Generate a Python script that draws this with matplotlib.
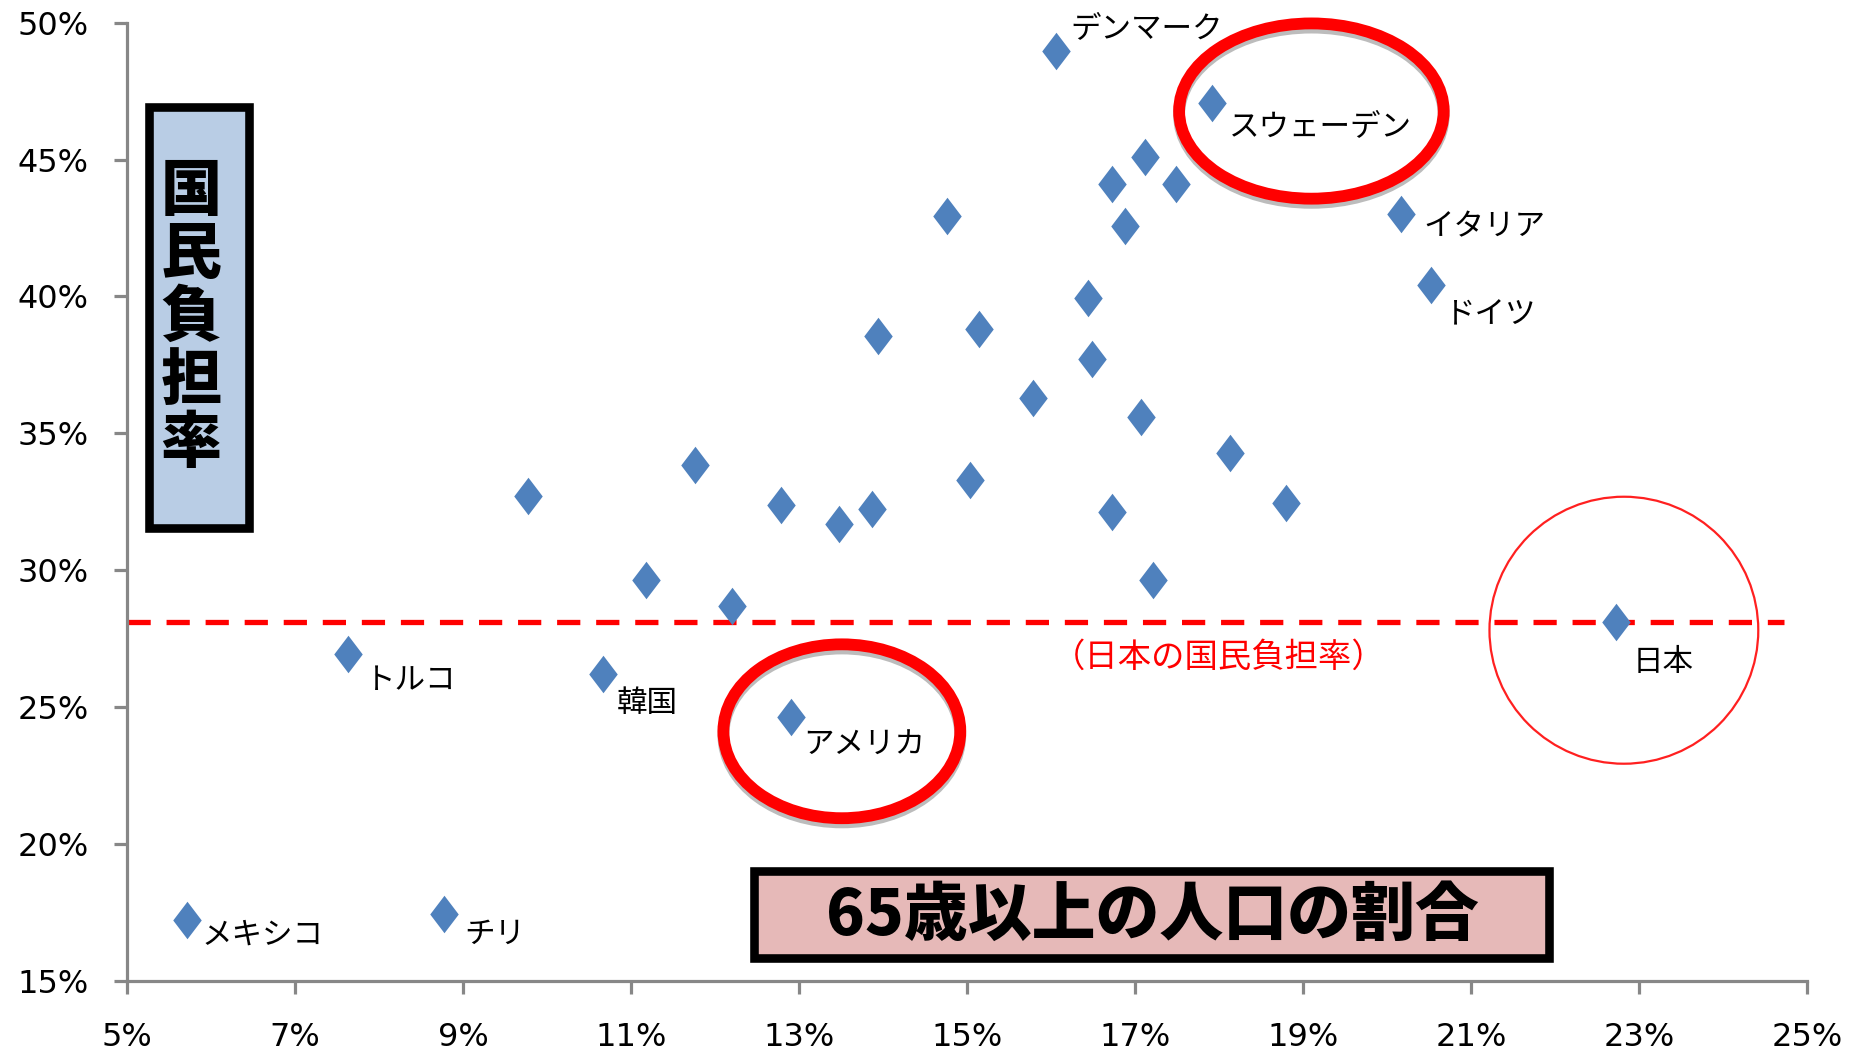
import matplotlib
matplotlib.use("Agg")
import matplotlib.pyplot as plt
from matplotlib.patches import Ellipse, Rectangle
from matplotlib.path import Path
import matplotlib.patheffects as pe

plt.rcParams['font.family'] = ['Noto Sans CJK JP', 'DejaVu Sans']

# ---- data (percent) ----
elderly_share = [16.06, 17.92, 17.12, 16.73, 17.49, 16.88, 14.76, 20.17, 20.52, 16.44,
                 13.94, 15.14, 16.49, 15.79, 17.07, 18.13, 11.76, 15.03, 9.77, 12.78,
                 13.87, 13.48, 16.73, 18.80, 11.18, 17.22, 12.20, 22.73, 7.63, 10.67,
                 12.90, 5.71, 8.77]
burden_rate = [48.96, 47.05, 45.09, 44.09, 44.09, 42.57, 42.92, 43.01, 40.40, 39.93,
               38.54, 38.80, 37.71, 36.28, 35.58, 34.28, 33.85, 33.28, 32.72, 32.37,
               32.24, 31.68, 32.11, 32.46, 29.64, 29.64, 28.68, 28.12, 26.94, 26.21,
               24.64, 17.22, 17.43]
names = ['デンマーク', 'スウェーデン', '', '', '', '', '', 'イタリア', 'ドイツ', '',
         '', '', '', '', '', '', '', '', '', '',
         '', '', '', '', '', '', '', '日本', 'トルコ', '韓国',
         'アメリカ', 'メキシコ', 'チリ']
x_ticks = [5, 7, 9, 11, 13, 15, 17, 19, 21, 23, 25]
y_ticks = [15, 20, 25, 30, 35, 40, 45, 50]
japan_rate = 28.12
y_label = '国民負担率'
x_label = '65歳以上の人口の割合'
japan_note = '（日本の国民負担率）'

# label offsets in points (style/position only)
label_offsets = {
    'デンマーク': (10, 16), 'スウェーデン': (12, -17), 'イタリア': (16, -9),
    'ドイツ': (10, -21), '日本': (12, -29), 'トルコ': (12, -19), '韓国': (10, -21),
    'アメリカ': (9, -20), 'メキシコ': (11, -11), 'チリ': (15, -14),
}

W, H = 1865, 1060
fig = plt.figure(figsize=(W / 100, H / 100), dpi=100)
ax = fig.add_axes([127 / W, 1 - 981 / H, (1807 - 127) / W, (981 - 22.6) / H])

ax.set_xlim(5, 25)
ax.set_ylim(15, 50)

diamond = Path([(0, 1), (0.76, 0), (0, -1), (-0.76, 0), (0, 1)],
               [Path.MOVETO, Path.LINETO, Path.LINETO, Path.LINETO, Path.CLOSEPOLY])

# dashed Japan line
ax.plot([5, 24.73], [japan_rate, japan_rate], color='#FF0000', lw=3.8,
        dashes=(4.4, 3.0), zorder=2, solid_capstyle='butt', dash_capstyle='butt')

ax.plot(elderly_share, burden_rate, linestyle='none', marker=diamond,
        markersize=27, color='#4F81BD', markeredgewidth=0, zorder=3)

for x, y, n in zip(elderly_share, burden_rate, names):
    if n:
        dx, dy = label_offsets[n]
        ax.annotate(n, (x, y), xytext=(dx, dy), textcoords='offset points',
                    ha='left', va='center', fontsize=22, color='black', zorder=5)

ax.text(18.0, 26.81, japan_note, color='#FF0000', fontsize=24, ha='center',
        va='center', zorder=5)

# ellipses
shadow = [pe.SimpleLineShadow(offset=(0, -3), shadow_color='#404040', alpha=0.35),
          pe.Normal()]
for cx, cy, w, h in [(19.1, 46.77, 3.15, 6.4), (13.51, 24.12, 2.82, 6.35)]:
    e = Ellipse((cx, cy), w, h, fill=False, edgecolor='#FF0000', lw=8.5, zorder=6,
                clip_on=False)
    e.set_path_effects(shadow)
    ax.add_patch(e)
ax.add_patch(Ellipse((22.82, 27.81), 3.2, 9.75, fill=False, edgecolor='#FF2020',
                     lw=1.6, zorder=6, clip_on=False))

# axis styling
for s in ['top', 'right']:
    ax.spines[s].set_visible(False)
for s in ['left', 'bottom']:
    ax.spines[s].set_color('#878787')
    ax.spines[s].set_linewidth(2.3)
ax.set_xticks(x_ticks)
ax.set_yticks(y_ticks)
ax.set_xticklabels([f'{v}%' for v in x_ticks])
ax.set_yticklabels([f'{v}%' for v in y_ticks])
ax.tick_params(axis='both', direction='out', length=9.5, width=2.3, color='#878787',
               labelsize=23, labelcolor='black')
ax.tick_params(axis='x', pad=20)
ax.tick_params(axis='y', pad=18)
for lab in ax.get_xticklabels() + ax.get_yticklabels():
    lab.set_fontfamily(['DejaVu Sans'])

# y-label box
bw = 8.6
fig.patches.append(Rectangle(((145 + bw / 2) / W, 1 - (532 - bw / 2) / H),
                             (253 - 145 - bw) / W, (532 - 103 - bw) / H,
                             transform=fig.transFigure, facecolor='#B9CDE5',
                             edgecolor='black', lw=bw * 0.72, zorder=10))
fig.text(191 / W, 1 - 318 / H, '\n'.join(y_label), ha='center', va='center',
         fontsize=44, fontweight='black', linespacing=1.02, zorder=11)

# x-label box
fig.patches.append(Rectangle(((750 + bw / 2) / W, 1 - (962 - bw / 2) / H),
                             (1553 - 750 - bw) / W, (962 - 867 - bw) / H,
                             transform=fig.transFigure, facecolor='#E6B9B8',
                             edgecolor='black', lw=bw * 0.72, zorder=10))
fig.text(1152 / W, 1 - 916 / H, x_label, ha='center', va='center',
         fontsize=46, fontweight='black', zorder=11)

fig.savefig('out.png', dpi=100)
